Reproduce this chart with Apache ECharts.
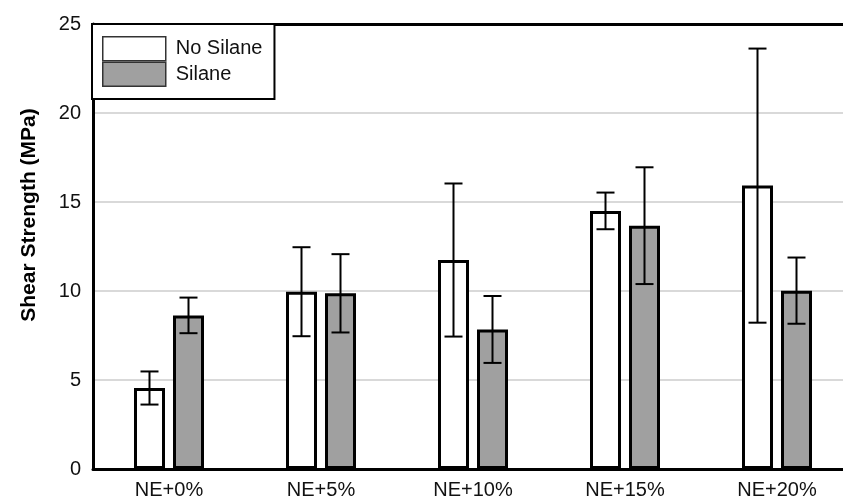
<!DOCTYPE html>
<html>
<head>
<meta charset="utf-8">
<script src="https://cdn.jsdelivr.net/npm/echarts@6/dist/echarts.min.js"></script>
<style>html,body{margin:0;padding:0;background:#fff;overflow:hidden;width:843px;height:502px;}#c{width:853px;height:502px;}</style>
</head>
<body>
<div id="c"></div>
<script>
var categories = ['NE+0%', 'NE+5%', 'NE+10%', 'NE+15%', 'NE+20%'];
var noSilane = [4.55, 9.96, 11.74, 14.5, 15.92];
var noSilaneErr = [0.93, 2.5, 4.3, 1.03, 7.7];
var silane = [8.63, 9.87, 7.84, 13.67, 10.02];
var silaneErr = [1.0, 2.2, 1.88, 3.28, 1.86];
var yTicks = [0, 5, 10, 15, 20, 25];

var FONT = 'Liberation Sans, Arial, sans-serif';
var BAR_W = 31;
var BAR_GAP = 8; // px between bar rects
var OFFSET = (BAR_W + BAR_GAP) / 2;

function errSeries(name, vals, errs, side) {
  return {
    type: 'custom',
    name: name + ' err',
    z: 5,
    data: vals.map(function (v, i) { return [i, v - errs[i], v + errs[i]]; }),
    renderItem: function (params, api) {
      var lo = api.coord([api.value(0), api.value(1)]);
      var hi = api.coord([api.value(0), api.value(2)]);
      var x = lo[0] + side * OFFSET;
      var hw = 9;
      var st = { stroke: '#000', lineWidth: 2 };
      return {
        type: 'group',
        children: [
          { type: 'line', shape: { x1: x, y1: lo[1], x2: x, y2: hi[1] }, style: st },
          { type: 'line', shape: { x1: x - hw, y1: lo[1], x2: x + hw, y2: lo[1] }, style: st },
          { type: 'line', shape: { x1: x - hw, y1: hi[1], x2: x + hw, y2: hi[1] }, style: st }
        ]
      };
    },
    tooltip: { show: false }
  };
}

var chart = echarts.init(document.getElementById('c'), null, { renderer: 'canvas' });
chart.setOption({
  animation: false,
  backgroundColor: '#fff',
  textStyle: { fontFamily: FONT },
  grid: { left: 93, top: 24, bottom: 33, right: 0, containLabel: false },
  legend: {
    left: 92, top: 24,
    orient: 'vertical',
    data: ['No Silane', 'Silane'],
    itemWidth: 63, itemHeight: 24, itemGap: 0,
    padding: [12, 12, 12, 10],
    backgroundColor: '#fff',
    borderColor: '#000', borderWidth: 2,
    icon: 'rect',
    itemStyle: { borderWidth: 1.5, borderColor: '#333' },
    textStyle: { fontFamily: FONT, fontSize: 20, color: '#111', padding: [0, 0, 0, 5] },
    z: 10
  },
  xAxis: [{
    type: 'category',
    data: categories,
    axisLine: { lineStyle: { color: '#000', width: 3 } },
    axisTick: { inside: true, length: 9, lineStyle: { color: '#000', width: 2 } },
    axisLabel: { fontFamily: FONT, fontSize: 20, color: '#111', margin: 11 }
  }, {
    type: 'category',
    data: categories,
    position: 'top',
    axisLine: { lineStyle: { color: '#000', width: 3 } },
    axisTick: { inside: true, length: 9, lineStyle: { color: '#000', width: 2 } },
    axisLabel: { show: false }
  }],
  yAxis: {
    type: 'value',
    min: yTicks[0], max: yTicks[yTicks.length - 1], interval: 5,
    axisLine: { show: true, lineStyle: { color: '#000', width: 3 } },
    axisTick: { show: false },
    axisLabel: { fontFamily: FONT, fontSize: 20, color: '#111', margin: 12 },
    splitLine: { lineStyle: { color: '#d9d9d9', width: 2 } }
  },
  graphic: [{
    type: 'text',
    x: 29, y: 215,
    rotation: Math.PI / 2,
    style: {
      text: 'Shear Strength (MPa)',
      font: 'bold 21px ' + FONT,
      fill: '#000',
      textAlign: 'center',
      textVerticalAlign: 'middle'
    }
  }],
  series: [
    {
      name: 'No Silane', type: 'bar', data: noSilane,
      barWidth: BAR_W, barGap: (BAR_GAP / BAR_W * 100) + '%',
      itemStyle: { color: '#fff', borderColor: '#000', borderWidth: 3 }
    },
    {
      name: 'Silane', type: 'bar', data: silane,
      barWidth: BAR_W,
      itemStyle: { color: '#a0a0a0', borderColor: '#000', borderWidth: 3 }
    },
    errSeries('No Silane', noSilane, noSilaneErr, -1),
    errSeries('Silane', silane, silaneErr, 1)
  ]
});
</script>
</body>
</html>
